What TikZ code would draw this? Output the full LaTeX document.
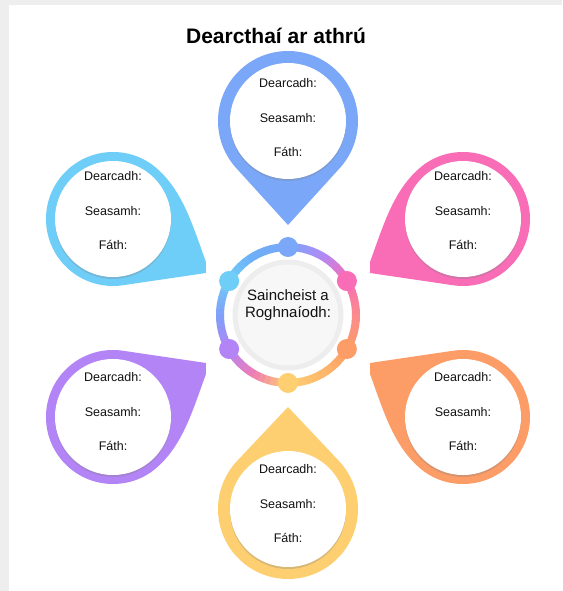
\documentclass[tikz,border=0pt]{standalone}
\usepackage{fontspec}
\setmainfont{Liberation Sans}
\usepackage{xcolor}
\usetikzlibrary{calc, shadows, positioning}
\definecolor{cblue}{HTML}{7AA7F8}
\definecolor{cpink}{HTML}{F86DB6}
\definecolor{corange}{HTML}{FC9C66}
\definecolor{cyellow}{HTML}{FDCF71}
\definecolor{cpurple}{HTML}{B384F6}
\definecolor{ccyan}{HTML}{6FCEF8}
\definecolor{cframe}{HTML}{EEEEEE}
\definecolor{cbk}{HTML}{111111}
% in-between colours of the ring
\definecolor{rlilac}{HTML}{B08AF6}
\definecolor{rsalmon}{HTML}{FB8A8E}
\definecolor{ramber}{HTML}{FDB86B}
\definecolor{rrose}{HTML}{F07DB2}
\definecolor{rsky}{HTML}{7FA0F8}
\definecolor{razure}{HTML}{6EAEF7}

\begin{document}
\begin{tikzpicture}[x=1pt, y=1pt]
    \begin{scope}[
        disc/.style={circle, fill=white, minimum size=116pt, inner sep=0pt, drop shadow={opacity=0.3, shadow xshift=0pt, shadow yshift=-2pt}},
        disctext/.style={align=center, inner sep=0pt, font=\fontsize{12.5}{34.5}\selectfont\color{cbk}},
        hub/.style={circle, fill=black!3, draw=black!7, line width=5pt, minimum size=106pt, inner sep=0pt, drop shadow={opacity=0.25, shadow xshift=0pt, shadow yshift=-1.5pt}},
        hubtext/.style={align=center, font=\fontsize{15}{16.5}\selectfont\color{cbk}, inner sep=0pt},
        dot/.style={circle, minimum size=20pt, inner sep=0pt},
        titlelabel/.style={font=\fontsize{21}{24}\selectfont\bfseries\color{black}}
    ]
        % ================= PAGE =================
        \fill[cframe] (-288,-276) rectangle (274,315);
        \fill[white] (-279,-276) rectangle (274,310);
        \useasboundingbox (-288,-276) rectangle (274,315);

        \node[titlelabel] (title) at (-12, 279) {Dearcthaí ar athrú};

        % ================= DROPS: TOP AND BOTTOM =================
        \foreach \n/\y/\ang/\d/\col/\ty in {top/194/-90/104/cblue/3, bottom/-194/90/102/cyellow/5}{
            \pgfmathsetmacro\al{acos(70/\d)}
            \pgfmathsetmacro\sa{\ang+\al}
            \pgfmathsetmacro\ea{\ang+360-\al}
            \fill[\col, shift={(0,\y)}] (\ang:\d) -- (\sa:70) arc[start angle=\sa, end angle=\ea, radius=70] -- cycle;
            \node[disc] (disc-\n) at (0,\y) {};
            \node[disctext] (text-\n) at ([yshift=\ty pt]disc-\n.center) {Dearcadh:\\Seasamh:\\Fáth:};
        }

        % ================= DROPS: SIDES (cut tips) =================
        \foreach \n/\x/\y/\sx/\sy/\col/\ty in {upright/175/96/1/1/cpink/8, lowright/175/-102/1/-1/corange/5, lowleft/-175/-102/-1/-1/cpurple/5, upleft/-175/96/-1/1/ccyan/8}{
            \fill[\col, shift={(\x,\y)}, xscale=\sx, yscale=\sy] (-93,-43) .. controls (-79,-5) and (-69,32) .. (125:67) arc[start angle=125, end angle=-98.5, radius=67] -- (-93,-54) -- cycle;
            \node[disc] (disc-\n) at (\x,\y) {};
            \node[disctext] (text-\n) at ([yshift=\ty pt]disc-\n.center) {Dearcadh:\\Seasamh:\\Fáth:};
        }

        % ================= RING =================
        \foreach \a/\ca/\cb in {90/cblue/rlilac, 60/rlilac/cpink, 30/cpink/rsalmon, 0/rsalmon/corange, -30/corange/ramber, -60/ramber/cyellow, -90/cyellow/rrose, -120/rrose/cpurple, -150/cpurple/rsky, -180/rsky/ccyan, -210/ccyan/razure, -240/razure/cblue}{
            \foreach \i in {0,...,5}{
                \pgfmathtruncatemacro\p{100-(\i+0.5)*16.67}
                \pgfmathsetmacro\sa{\a-\i*5}
                \pgfmathsetmacro\ea{\a-\i*5-5.6}
                \draw[\ca!\p!\cb, line width=8pt] (\sa:68) arc[start angle=\sa, end angle=\ea, radius=68];
            }
        }
        \foreach \n/\a/\col in {top/90/cblue, upright/30/cpink, lowright/-30/corange, bottom/-90/cyellow, lowleft/-150/cpurple, upleft/150/ccyan}{
            \node[dot, fill=\col] (dot-\n) at (\a:68) {};
        }

        % ================= HUB =================
        \node[hub] (hub) at (0,0) {};
        \node[hubtext] (hub-text) at ([yshift=10pt]hub.center) {Saincheist a\\Roghnaíodh:};
    \end{scope}
\end{tikzpicture}
\end{document}
